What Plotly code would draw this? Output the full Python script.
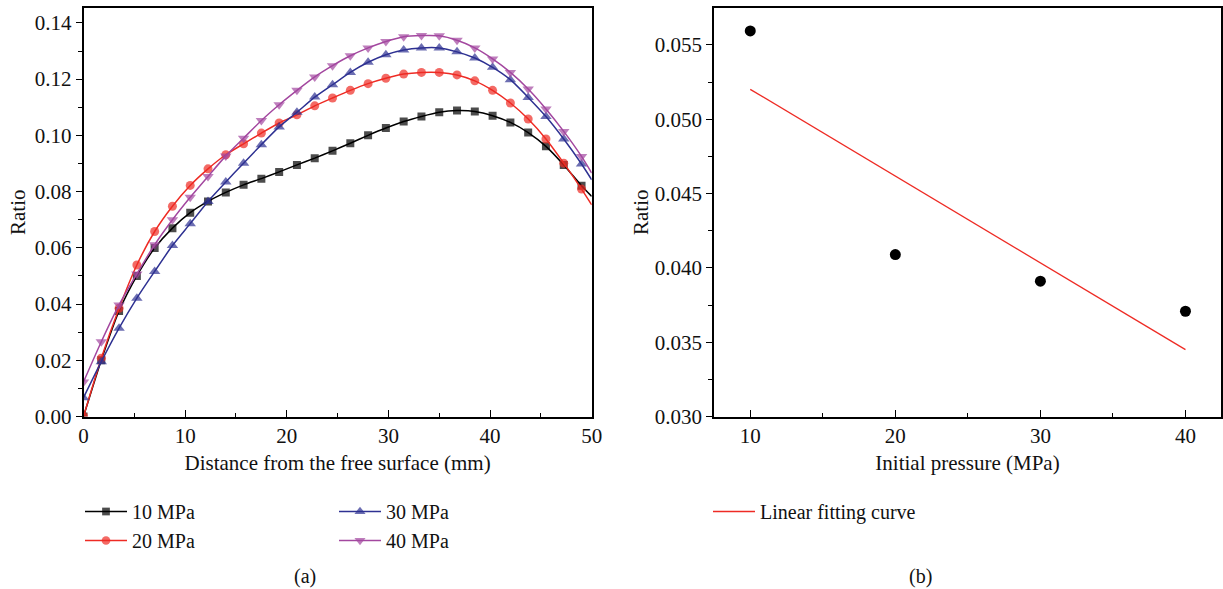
import numpy as np
import plotly.graph_objects as go

# ---- (a) ratio profiles along the distance from the free surface ----
distance_mm = [round(1.75 * i, 2) for i in range(29)]
distance_end = 50.0

ratio_10 = [0.0, 0.0200, 0.0375, 0.0500, 0.0599, 0.0670, 0.0725, 0.0765, 0.0797, 0.0824,
            0.0846, 0.0870, 0.0895, 0.0919, 0.0945, 0.0972, 0.1000, 0.1026, 0.1049, 0.1067,
            0.1082, 0.1088, 0.1085, 0.1070, 0.1046, 0.1010, 0.0961, 0.0895, 0.0821]
ratio_10_end = 0.0783

ratio_20 = [0.0, 0.0207, 0.0385, 0.0539, 0.0658, 0.0748, 0.0822, 0.0881, 0.0931, 0.0970,
            0.1008, 0.1044, 0.1073, 0.1105, 0.1133, 0.1160, 0.1184, 0.1203, 0.1218, 0.1224,
            0.1224, 0.1215, 0.1194, 0.1160, 0.1115, 0.1058, 0.0987, 0.0901, 0.0809]
ratio_20_end = 0.0753

ratio_30 = [0.0067, 0.0195, 0.0314, 0.0421, 0.0516, 0.0608, 0.0686, 0.0765, 0.0834, 0.0901,
            0.0967, 0.1030, 0.1082, 0.1136, 0.1180, 0.1224, 0.1260, 0.1287, 0.1304, 0.1311,
            0.1311, 0.1297, 0.1275, 0.1242, 0.1198, 0.1135, 0.1067, 0.0987, 0.0898]
ratio_30_end = 0.0842

ratio_40 = [0.0123, 0.0266, 0.0397, 0.0507, 0.0611, 0.0700, 0.0780, 0.0854, 0.0927, 0.0990,
            0.1053, 0.1109, 0.1160, 0.1208, 0.1248, 0.1283, 0.1311, 0.1334, 0.1351, 0.1355,
            0.1354, 0.1338, 0.1311, 0.1272, 0.1224, 0.1165, 0.1094, 0.1014, 0.0925]
ratio_40_end = 0.0866

# ---- (b) ratio versus initial pressure ----
pressure_mpa = [10, 20, 30, 40]
ratio_b = [0.05594, 0.04089, 0.03910, 0.03708]

FONT = "Liberation Serif"
FS = 21
LFS = 20

series = [
    ("10 MPa", ratio_10, ratio_10_end, "#000000", "square", 8, "legend"),
    ("20 MPa", ratio_20, ratio_20_end, "#ee2b24", "circle", 9, "legend"),
    ("30 MPa", ratio_30, ratio_30_end, "#2e3192", "triangle-up", 10, "legend2"),
    ("40 MPa", ratio_40, ratio_40_end, "#a3479f", "triangle-down", 10, "legend2"),
]

fig = go.Figure()

for name, vals, end_val, color, symbol, size, leg in series:
    xs = distance_mm + [distance_end]
    ys = vals + [end_val]
    sizes = [size] * len(vals) + [0]
    fig.add_trace(go.Scatter(
        x=xs, y=ys, name=name, mode="lines+markers",
        line=dict(color=color, width=1.5, shape="spline", smoothing=0.6),
        marker=dict(color=color, symbol=symbol, size=sizes, line=dict(width=0)),
        xaxis="x", yaxis="y", legend=leg, legendgroup=name,
    ))

# linear fit of the pressure data
slope, intercept = np.polyfit(pressure_mpa, ratio_b, 1)
fit_x = [pressure_mpa[0], pressure_mpa[-1]]
fit_y = [slope * v + intercept for v in fit_x]

fig.add_trace(go.Scatter(
    x=pressure_mpa, y=ratio_b, mode="markers", showlegend=False,
    marker=dict(color="#000000", size=11, symbol="circle"),
    xaxis="x2", yaxis="y2",
))
fig.add_trace(go.Scatter(
    x=fit_x, y=fit_y, mode="lines", name="Linear fitting curve",
    line=dict(color="#ee2b24", width=1.3),
    xaxis="x2", yaxis="y2", legend="legend3",
))

axis_common = dict(
    showline=True, linecolor="#000000", linewidth=1.5, mirror=True,
    showgrid=False, zeroline=False, automargin=False,
    tickfont=dict(family=FONT, size=FS, color="#111111"),
    tickcolor="#000000", tickwidth=1.3,
)

y_top = 1 - 8 / 589
y_bot = 1 - 416.5 / 589

legend_common = dict(
    xanchor="left", yanchor="top", orientation="v",
    traceorder="grouped", tracegroupgap=0, itemwidth=42,
    bgcolor="rgba(0,0,0,0)", font=dict(family=FONT, size=LFS),
)

fig.update_layout(
    width=1223, height=589,
    margin=dict(l=0, r=0, t=0, b=0, autoexpand=False),
    paper_bgcolor="white", plot_bgcolor="white",
    font=dict(family=FONT, size=FS, color="#111111"),
    xaxis=dict(
        axis_common, domain=[83.5 / 1223, 591.7 / 1223], range=[0, 50],
        tick0=0, dtick=10, ticks="inside", ticklen=7,
        minor=dict(ticks="inside", ticklen=4, dtick=5, tick0=0, tickcolor="#000000"),
        title=dict(text="Distance from the free surface (mm)",
                   font=dict(family=FONT, size=FS), standoff=8),
        anchor="y",
    ),
    yaxis=dict(
        axis_common, domain=[y_bot, y_top], range=[0, 0.1453],
        tick0=0, dtick=0.02, tickformat=".2f", ticks="outside", ticklen=6,
        minor=dict(ticks="outside", ticklen=4, dtick=0.01, tick0=0, tickcolor="#000000"),
        title=dict(text="Ratio", font=dict(family=FONT, size=FS), standoff=3),
        anchor="x",
    ),
    xaxis2=dict(
        axis_common, domain=[714 / 1223, 1221 / 1223], range=[7.5, 42.45],
        tick0=10, dtick=10, ticks="inside", ticklen=7,
        minor=dict(ticks="inside", ticklen=4, dtick=5, tick0=0, tickcolor="#000000"),
        title=dict(text="Initial pressure (MPa)",
                   font=dict(family=FONT, size=FS), standoff=8),
        anchor="y2",
    ),
    yaxis2=dict(
        axis_common, domain=[y_bot, y_top], range=[0.030, 0.05748],
        tick0=0.030, dtick=0.005, tickformat=".3f", ticks="outside", ticklen=6,
        minor=dict(ticks="outside", ticklen=4, dtick=0.0025, tick0=0.030, tickcolor="#000000"),
        title=dict(text="Ratio", font=dict(family=FONT, size=FS), standoff=0),
        anchor="x2",
    ),
    legend=dict(legend_common, x=80 / 1223, y=1 - 492 / 589),
    legend2=dict(legend_common, x=334 / 1223, y=1 - 492 / 589),
    legend3=dict(legend_common, x=708 / 1223, y=1 - 492 / 589),
    annotations=[
        dict(text="(a)", x=305 / 1223, y=1 - 576 / 589, xref="paper", yref="paper",
             xanchor="center", yanchor="middle",
             showarrow=False, font=dict(family=FONT, size=LFS)),
        dict(text="(b)", x=920 / 1223, y=1 - 576 / 589, xref="paper", yref="paper",
             xanchor="center", yanchor="middle",
             showarrow=False, font=dict(family=FONT, size=LFS)),
    ],
)

fig.write_html("out.html")
